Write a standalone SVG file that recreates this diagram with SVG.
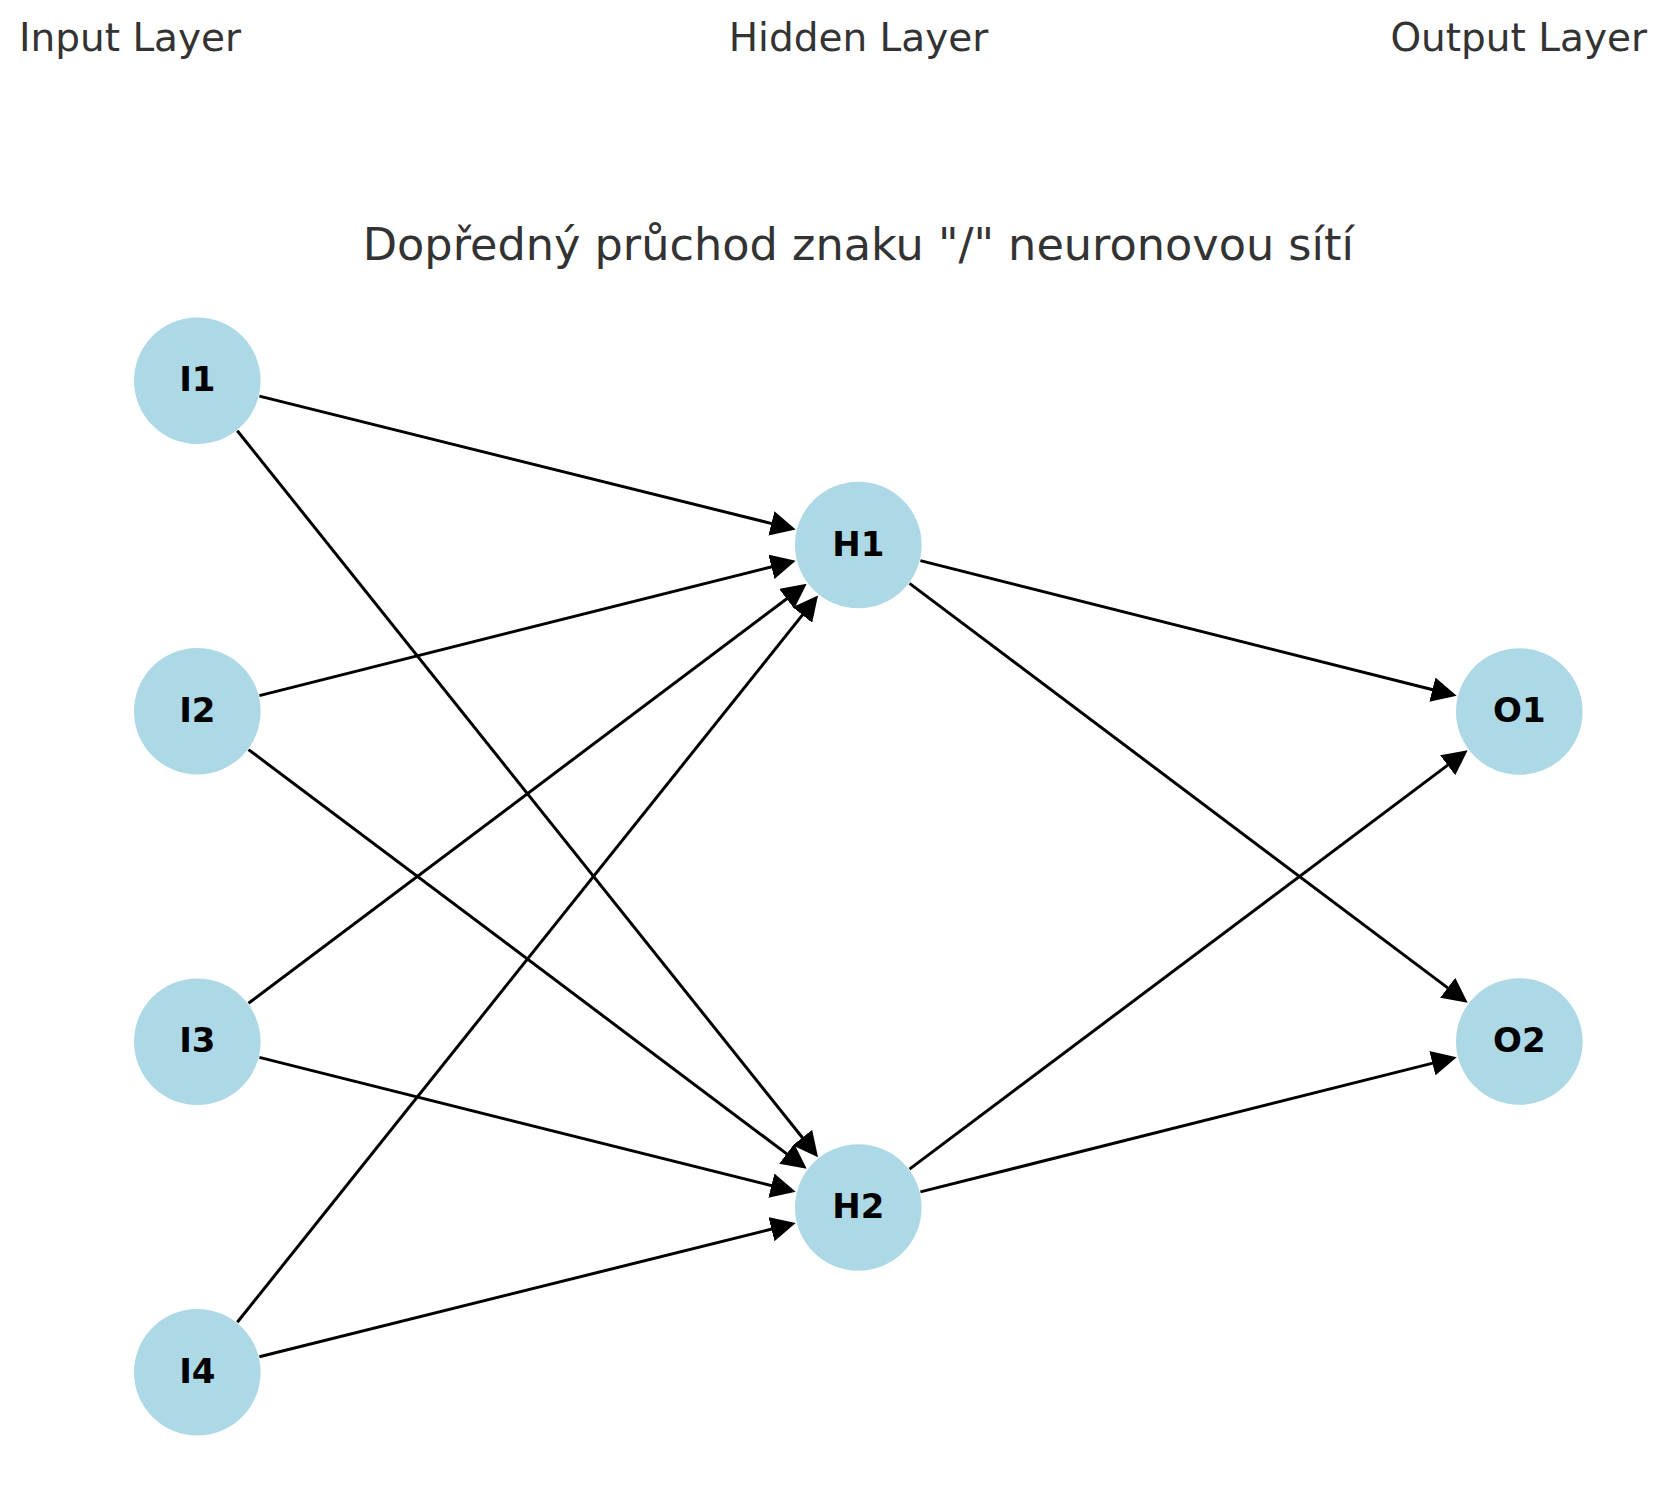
<svg xmlns="http://www.w3.org/2000/svg" width="1677" height="1496" viewBox="0 0 1677 1496">
<style>
.bg{fill:#ffffff}
.layer{font-family:"DejaVu Sans","Liberation Sans",sans-serif;font-size:39px;fill:#333333}
.title{font-family:"DejaVu Sans","Liberation Sans",sans-serif;font-size:44.6px;fill:#333333}
.node circle{fill:#ADD8E6}
.node text{font-family:"DejaVu Sans","Liberation Sans",sans-serif;font-size:34px;font-weight:bold;fill:#000000;text-anchor:middle}
.edge{stroke:#000000;stroke-width:3;fill:none;marker-end:url(#arrow)}
</style>
<defs>
<marker id="arrow" markerUnits="userSpaceOnUse" markerWidth="25" markerHeight="25" refX="0.5" refY="12.5" orient="auto">
<path d="M0,0 L25,12.5 L0,25 z" fill="#000000"/>
</marker>
</defs>
<rect class="bg" x="0" y="0" width="1677" height="1496"/>
<text class="layer" x="19" y="51">Input Layer</text>
<text class="layer" x="858.5" y="51" text-anchor="middle">Hidden Layer</text>
<text class="layer" x="1518.7" y="51" text-anchor="middle">Output Layer</text>
<text class="title" x="858.3" y="260" text-anchor="middle">Dopředný průchod znaku "/" neuronovou sítí</text>
<g id="connectors">
<line class="edge" x1="259.4" y1="396.1" x2="771.9" y2="523.6"/>
<line class="edge" x1="237.3" y1="430.7" x2="802.7" y2="1138.0"/>
<line class="edge" x1="259.4" y1="695.6" x2="771.9" y2="566.7"/>
<line class="edge" x1="248.5" y1="749.6" x2="787.1" y2="1154.1"/>
<line class="edge" x1="248.5" y1="1003.3" x2="787.1" y2="598.5"/>
<line class="edge" x1="259.4" y1="1057.4" x2="771.9" y2="1185.8"/>
<line class="edge" x1="237.3" y1="1322.3" x2="802.7" y2="614.6"/>
<line class="edge" x1="259.4" y1="1356.8" x2="771.9" y2="1229.0"/>
<line class="edge" x1="920.4" y1="560.6" x2="1432.9" y2="689.8"/>
<line class="edge" x1="909.5" y1="583.4" x2="1448.1" y2="988.1"/>
<line class="edge" x1="909.5" y1="1169.1" x2="1448.1" y2="764.9"/>
<line class="edge" x1="920.4" y1="1191.9" x2="1432.9" y2="1063.1"/>
</g>
<g id="I1" class="node"><circle cx="197.3" cy="380.7" r="63.3"/><text x="197.3" y="391.2">I1</text></g>
<g id="I2" class="node"><circle cx="197.3" cy="711.2" r="63.3"/><text x="197.3" y="721.7">I2</text></g>
<g id="I3" class="node"><circle cx="197.3" cy="1041.8" r="63.3"/><text x="197.3" y="1052.3">I3</text></g>
<g id="I4" class="node"><circle cx="197.3" cy="1372.3" r="63.3"/><text x="197.3" y="1382.8">I4</text></g>
<g id="H1" class="node"><circle cx="858.3" cy="545" r="63.3"/><text x="858.3" y="555.5">H1</text></g>
<g id="H2" class="node"><circle cx="858.3" cy="1207.5" r="63.3"/><text x="858.3" y="1218">H2</text></g>
<g id="O1" class="node"><circle cx="1519.3" cy="711.5" r="63.3"/><text x="1519.3" y="722">O1</text></g>
<g id="O2" class="node"><circle cx="1519.3" cy="1041.5" r="63.3"/><text x="1519.3" y="1052">O2</text></g>
</svg>
